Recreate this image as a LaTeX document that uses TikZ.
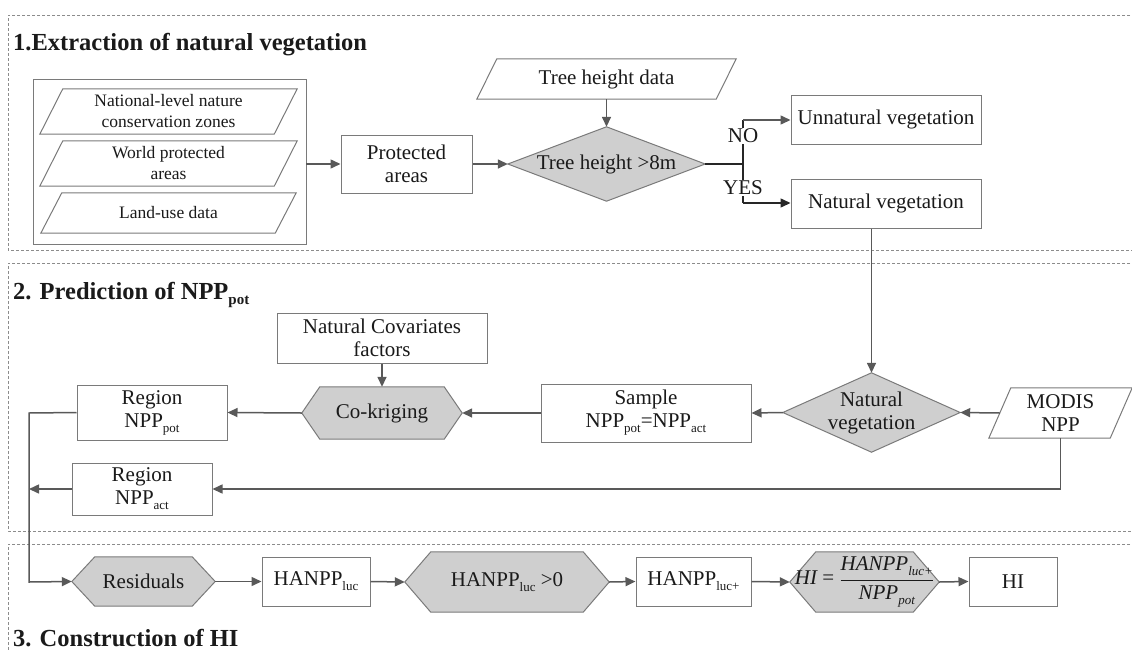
\documentclass[tikz,border=0pt]{standalone}
\usepackage{fontspec}
\setmainfont{Liberation Serif}
\usetikzlibrary{arrows.meta,calc,backgrounds}
\definecolor{lineg}{HTML}{595959}
\definecolor{bordg}{HTML}{7A7A7A}
\definecolor{fillg}{HTML}{CFCFCF}
\definecolor{dashg}{HTML}{8C8C8C}
\definecolor{txt}{HTML}{1A1A1A}
\newcommand{\ssub}[1]{\raisebox{-5pt}{\fontsize{13}{13}\selectfont #1}}
\newcommand{\tsub}[1]{\raisebox{-5pt}{\fontsize{15}{15}\selectfont #1}}
\newcommand{\paral}[2]{\draw[pshape] (#1.south west) -- ($(#1.north west)+(#2,0)$) -- (#1.north east) -- ($(#1.south east)+(-#2,0)$) -- cycle;}
\newcommand{\hexa}[2]{\draw[gshape] (#1.west) -- ($(#1.north west)+(#2,0)$) -- ($(#1.north east)+(-#2,0)$) -- (#1.east) -- ($(#1.south east)+(-#2,0)$) -- ($(#1.south west)+(#2,0)$) -- cycle;}
\newcommand{\diam}[1]{\draw[gshape] (#1.west) -- (#1.north) -- (#1.east) -- (#1.south) -- cycle;}
\begin{document}
\begin{tikzpicture}[x=1pt,y=-1pt,
  every node/.style={font=\fontsize{21}{23}\selectfont, text=txt, inner sep=0pt, align=center},
  sz/.style 2 args={minimum width=#1pt, minimum height=#2pt},
  pbox/.style={draw=bordg, line width=1pt, fill=white},
  grpbox/.style={draw=bordg, line width=0.9pt},
  pshape/.style={draw=bordg, line width=1pt, fill=white},
  gshape/.style={draw=bordg, line width=1pt, fill=fillg},
  ln/.style={draw=lineg, line width=1.5pt},
  blk/.style={draw=black!85, line width=1.5pt},
  arr/.style={draw=lineg, line width=1.5pt, -{Triangle[length=10pt,width=9pt]}},
  arrblk/.style={draw=black!85, line width=1.5pt, -{Triangle[length=10pt,width=9pt]}},
  sect/.style={draw=dashg, line width=0.8pt, dash pattern=on 3pt off 2pt},
  title/.style={font=\fontsize{24.5}{28}\selectfont\bfseries, anchor=base west},
  small/.style={font=\fontsize{17.5}{21}\selectfont},
  lbl/.style={fill=white, inner sep=1pt}]
\useasboundingbox (0,0) rectangle (1132,651);
% sections
\draw[sect] (1140,15) -- (8,15) -- (8,250) -- (1140,250);
\draw[sect] (1140,263) -- (8,263) -- (8,531) -- (1140,531);
\draw[sect] (1140,544) -- (8,544) -- (8,660);
\node[title] (t1) at (13,50) {1.Extraction of natural vegetation};
\node[title] (t2) at (13,299) {2. Prediction of NPP\tsub{pot}};
\node[title] (t3) at (13,646) {3. Construction of HI};
% section 1
\node[grpbox, sz={273}{165}] (grp) at (169.5,161.5) {};
\node[small, sz={257}{45}] (nat) at (168.5,111.5) {National-level nature\\conservation zones};
\node[small, sz={257}{45}] (wpa) at (168.5,163.5) {World protected\\areas};
\node[small, sz={255}{40}] (lud) at (168.5,213) {Land-use data};
\node[pbox, sz={131}{58}] (prot) at (406.5,164) {Protected\\areas};
\node[sz={259}{40}] (thd) at (606.5,79) {Tree height data};
\node[sz={197}{74}] (th) at (606.5,164) {Tree height >8m};
\node[pbox, sz={190}{49}] (unnat) at (886,119.5) {Unnatural vegetation};
\node[pbox, sz={190}{49}] (natv) at (886,203.5) {Natural vegetation};
\coordinate (jn) at (743,164);
\coordinate (jtop) at (743,120);
\coordinate (jbot) at (743,203);
% section 2
\node[pbox, sz={210}{50}] (cov) at (382,338) {Natural Covariates\\factors};
\node[sz={160}{52}] (ck) at (382,413) {Co-kriging};
\node[pbox, sz={150}{55}] (rpot) at (152,412.5) {Region\\NPP\ssub{pot}};
\node[pbox, sz={210}{58}] (smp) at (646,413) {Sample\\NPP\ssub{pot}=NPP\ssub{act}};
\node[sz={177}{79}] (nv2) at (871.5,412.5) {Natural\\vegetation};
\node[sz={143}{50}] (modis) at (1060.5,413) {MODIS\\NPP};
\node[pbox, sz={140}{52}] (ract) at (142,489) {Region\\NPP\ssub{act}};
\coordinate (lx1) at (29,413);
\coordinate (lx2) at (29,582);
\coordinate (lx3) at (29,489);
% section 3
\node[sz={143}{49}] (res) at (143.5,581.5) {Residuals};
\node[pbox, sz={108}{49}] (hl) at (316,581.5) {HANPP\ssub{luc}};
\node[sz={204}{60}] (hc) at (507,582) {HANPP\ssub{luc} >0};
\node[pbox, sz={115}{49}] (hlp) at (693.5,581.5) {HANPP\ssub{luc+}};
\node[sz={149}{60}] (hif) at (864.5,582) {$\displaystyle\mbox{\itshape HI}\mbox{ = }\frac{\mbox{\itshape HANPP\ssub{luc+}}}{\mbox{\itshape NPP\ssub{pot}}}$};
\node[pbox, sz={88}{49}] (hi) at (1013,581.5) {HI};
% shapes on background
\begin{scope}[on background layer]
\paral{nat}{23}
\paral{wpa}{23}
\paral{lud}{21}
\paral{thd}{20}
\paral{modis}{22}
\diam{th}
\diam{nv2}
\hexa{ck}{18}
\hexa{res}{23}
\hexa{hc}{26}
\hexa{hif}{26}
\end{scope}
% connectors section 1
\draw[arr] (grp.east |- prot) -- (prot.west);
\draw[arr] (prot.east) -- (th.west);
\draw[arr] (thd.south) -- (th.north);
\draw[blk] (th.east) -- (jn);
\draw[blk] (jtop) -- (jbot);
\draw[arr] (jtop) -- (jtop -| unnat.west);
\draw[arrblk] (jbot) -- (jbot -| natv.west);
\node[lbl] (no) at (743,136) {NO};
\node[lbl] (yes) at (743,188) {YES};
% connectors section 2
\draw[arr] (natv.south -| nv2.north) -- (nv2.north);
\draw[arr] ($(modis.west)+(11,0)$) -- (nv2.east);
\draw[arr] (nv2.west) -- (smp.east);
\draw[arr] (smp.west) -- (ck.east);
\draw[arr] (cov.south) -- (ck.north);
\draw[arr] (ck.west) -- (rpot.east);
\draw[arr] (rpot.west) -- (lx1) -- (lx2) -- (res.west);
\draw[arr] (modis.south) -- (modis.south |- ract.east) -- (ract.east);
\draw[arr] (ract.west) -- (lx3);
% connectors section 3
\draw[arr] (res.east) -- (hl.west);
\draw[arr] (hl.east) -- (hc.west);
\draw[arr] (hc.east) -- (hlp.west);
\draw[arr] (hlp.east) -- (hif.west);
\draw[arr] (hif.east) -- (hi.west);
\end{tikzpicture}
\end{document}
